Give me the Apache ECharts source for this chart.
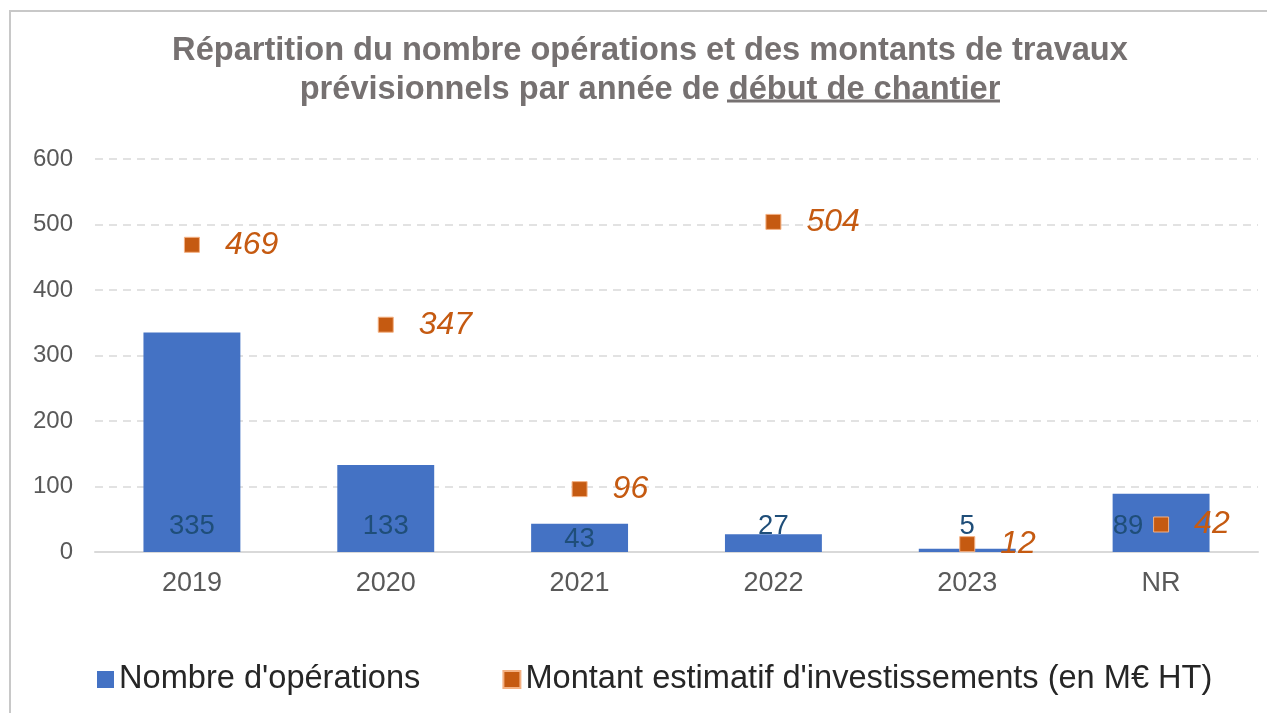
<!DOCTYPE html>
<html>
<head>
<meta charset="utf-8">
<script src="https://cdn.jsdelivr.net/npm/echarts@6/dist/echarts.min.js"></script>
<style>
  html, body { margin: 0; padding: 0; background: #fff; }
  #chart { width: 1267px; height: 713px; }
</style>
</head>
<body>
<div id="chart"></div>
<script>
// données
const annees = ['2019', '2020', '2021', '2022', '2023', 'NR'];
const nb_operations = [335, 133, 43, 27, 5, 89];
const montants = [469, 347, 96, 504, 12, 42];
const ticks_y = [0, 100, 200, 300, 400, 500, 600];

const BLEU = '#4472C4';
const ORANGE = '#C55A11';
const FONT = '"Liberation Sans", Arial, sans-serif';

var myChart = echarts.init(document.getElementById('chart'));

// petits décalages d'étiquettes comme dans l'original
const decalage_barres = { '2021': [0, 13], 'NR': [-33, 0] };

var option = {
    animation: false,
    textStyle: { fontFamily: FONT },
    title: {
        left: 645,
        textAlign: 'center',
        top: 27,
        text: 'Répartition du nombre opérations et des montants de travaux\nprévisionnels par année de début de chantier',
        textStyle: {
            fontFamily: FONT,
            fontSize: 32.6,
            fontWeight: 'bold',
            color: '#767171',
            lineHeight: 39
        }
    },
    graphic: [
        {   // cadre du graphique
            type: 'rect',
            shape: { x: 10, y: 11, width: 1300, height: 800 },
            style: { fill: 'none', stroke: '#C8C8C8', lineWidth: 2 },
            silent: true
        },
        {   // soulignement "début de chantier"
            type: 'line',
            shape: { x1: 727, y1: 101, x2: 1000, y2: 101 },
            style: { stroke: '#767171', lineWidth: 3 },
            silent: true
        }
    ],
    legend: {
        top: 658,
        left: 92,
        itemWidth: 17,
        itemHeight: 17,
        itemGap: 82,
        icon: 'rect',
        textStyle: {
            fontFamily: FONT,
            fontSize: 32.6,
            color: '#262626',
            padding: [0, 0, 0, 0]
        },
        data: ["Nombre d'opérations", "Montant estimatif d'investissements (en M€ HT)"]
    },
    grid: {
        left: 95,
        right: 9,
        top: 159,
        bottom: 161
    },
    xAxis: {
        type: 'category',
        data: annees,
        axisLine: { lineStyle: { color: '#D9D9D9', width: 2 } },
        axisTick: { show: false },
        axisLabel: {
            fontFamily: FONT,
            fontSize: 27,
            color: '#595959',
            margin: 18
        }
    },
    yAxis: {
        type: 'value',
        min: 0,
        max: 600,
        interval: 100,
        axisLine: { show: false },
        axisTick: { show: false },
        axisLabel: {
            fontFamily: FONT,
            fontSize: 24,
            color: '#595959',
            margin: 22
        },
        splitLine: {
            lineStyle: { color: '#D9D9D9', type: [8, 6], width: 1.5 }
        }
    },
    series: [
        {
            name: "Nombre d'opérations",
            type: 'bar',
            barWidth: '50%',
            itemStyle: { color: BLEU },
            label: {
                show: true,
                position: 'insideBottom',
                distance: 12,
                fontFamily: FONT,
                fontSize: 27.5,
                color: '#1F4E79'
            },
            data: nb_operations.map(function (v, i) {
                const off = decalage_barres[annees[i]];
                return off ? { value: v, label: { offset: off } } : v;
            })
        },
        {
            name: "Montant estimatif d'investissements (en M€ HT)",
            type: 'scatter',
            symbol: 'rect',
            symbolSize: 15,
            itemStyle: { color: ORANGE, opacity: 1, borderColor: '#F4B183', borderWidth: 1 },
            label: {
                show: true,
                position: 'right',
                distance: 25,
                fontFamily: FONT,
                fontSize: 32,
                fontStyle: 'italic',
                color: ORANGE
            },
            z: 5,
            data: montants
        }
    ]
};

myChart.setOption(option);
</script>
</body>
</html>
